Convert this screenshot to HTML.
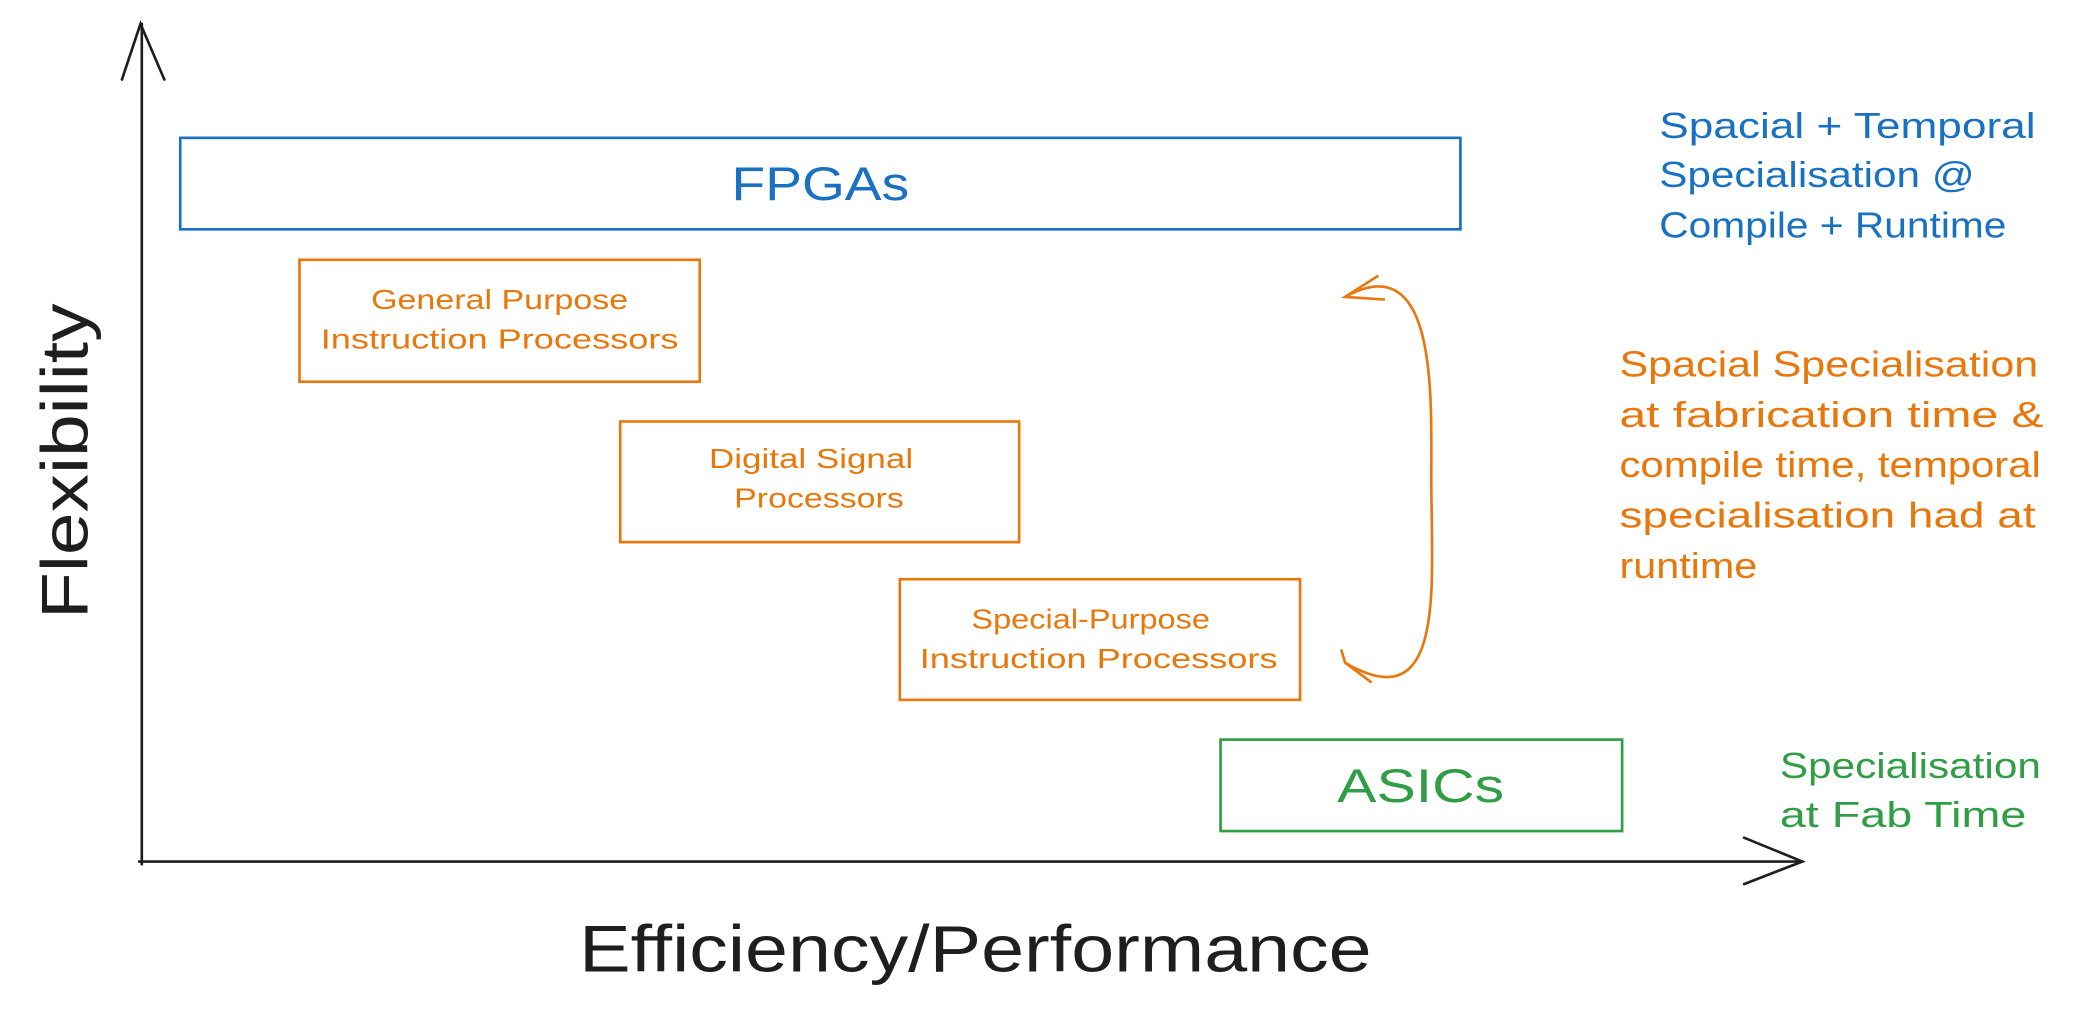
<!DOCTYPE html>
<html><head><style>html,body{margin:0;padding:0;background:#fff;}svg{display:block}</style></head>
<body>
<svg width="2078" height="1010" viewBox="0 0 1568 762" preserveAspectRatio="none" xmlns="http://www.w3.org/2000/svg" font-family="Liberation Sans, sans-serif">
<g fill="none" stroke="#1e1e1e" stroke-width="2" stroke-linecap="round">
<path d="M107,652 L107,18"/>
<path d="M92,60 L106,18 L124,60"/>
<path d="M105,650 L1360,650"/>
<path d="M1316,632 L1360,650 L1316,667"/>
</g>
<rect x="136" y="104" width="966" height="69" fill="none" stroke="#1971c2" stroke-width="2"/>
<text x="619" y="151" text-anchor="middle" font-size="36" fill="#1971c2" textLength="134" lengthAdjust="spacingAndGlyphs">FPGAs</text>
<g fill="none" stroke="#e8770c" stroke-width="2">
<rect x="226" y="196" width="302" height="92"/>
<rect x="468" y="318" width="301" height="91"/>
<rect x="679" y="437" width="302" height="91"/>
<path d="M1015,224 C1085,185 1080,300 1080,360 C1080,440 1092,545 1015,500"/>
<path d="M1040,208 L1015,224 L1045,226"/>
<path d="M1012,490 L1015,500 L1035,515"/>
</g>
<g fill="#e8770c" font-size="21" text-anchor="middle">
<text x="377" y="233" textLength="194" lengthAdjust="spacingAndGlyphs">General Purpose</text>
<text x="377" y="263" textLength="270" lengthAdjust="spacingAndGlyphs">Instruction Processors</text>
<text x="612" y="353" textLength="154" lengthAdjust="spacingAndGlyphs">Digital Signal</text>
<text x="618" y="383" textLength="128" lengthAdjust="spacingAndGlyphs">Processors</text>
<text x="823" y="474" textLength="180" lengthAdjust="spacingAndGlyphs">Special-Purpose</text>
<text x="829" y="504" textLength="270" lengthAdjust="spacingAndGlyphs">Instruction Processors</text>
</g>
<rect x="921" y="558" width="303" height="69" fill="none" stroke="#2f9e44" stroke-width="2"/>
<text x="1072" y="605" text-anchor="middle" font-size="36" fill="#2f9e44" textLength="126" lengthAdjust="spacingAndGlyphs">ASICs</text>
<g fill="#1971c2" font-size="27">
<text x="1252" y="104" textLength="284" lengthAdjust="spacingAndGlyphs">Spacial + Temporal</text>
<text x="1252" y="141" textLength="238" lengthAdjust="spacingAndGlyphs">Specialisation @</text>
<text x="1252" y="179" textLength="262" lengthAdjust="spacingAndGlyphs">Compile + Runtime</text>
</g>
<g fill="#e8770c" font-size="27">
<text x="1222" y="284" textLength="316" lengthAdjust="spacingAndGlyphs">Spacial Specialisation</text>
<text x="1222" y="322" textLength="320" lengthAdjust="spacingAndGlyphs">at fabrication time &amp;</text>
<text x="1222" y="360" textLength="318" lengthAdjust="spacingAndGlyphs">compile time, temporal</text>
<text x="1222" y="398" textLength="314" lengthAdjust="spacingAndGlyphs">specialisation had at</text>
<text x="1222" y="436" textLength="104" lengthAdjust="spacingAndGlyphs">runtime</text>
</g>
<g fill="#2f9e44" font-size="27">
<text x="1343" y="587" textLength="197" lengthAdjust="spacingAndGlyphs">Specialisation</text>
<text x="1343" y="624" textLength="186" lengthAdjust="spacingAndGlyphs">at Fab Time</text>
</g>
<text transform="translate(66,348) rotate(-90)" text-anchor="middle" font-size="50" fill="#1e1e1e" textLength="238" lengthAdjust="spacingAndGlyphs">Flexibility</text>
<text x="736" y="733" text-anchor="middle" font-size="50" fill="#1e1e1e" textLength="598" lengthAdjust="spacingAndGlyphs">Efficiency/Performance</text>
</svg>
</body></html>
